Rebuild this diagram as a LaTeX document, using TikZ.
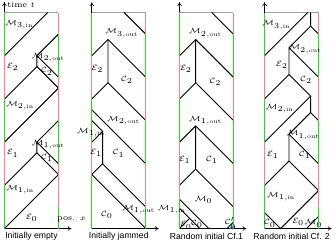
\documentclass[tikz,border=0pt]{standalone}
\usepackage{fontspec}
\setsansfont{Liberation Sans}
\usetikzlibrary{arrows.meta}

\begin{document}
\begin{tikzpicture}[
  font=\fontsize{5.5}{6}\selectfont,
  wave/.style={line width=0.6pt},
  axis/.style={line width=0.4pt, -{To[length=2.5pt,width=3pt]}},
  region/.style={inner sep=0pt},
  caption/.style={font=\sffamily\fontsize{5.7}{6}\selectfont, inner sep=0pt},
  phase/.style={line width=0.9pt}
]

% Define Light Colors
\definecolor{GoColor}{HTML}{22DD22}
\definecolor{StopColor}{HTML}{FF8080}
\definecolor{TopColor}{HTML}{A0A0A0}
\definecolor{FanColor}{HTML}{4080FF}

\useasboundingbox (-0.104,-0.336) rectangle (7.65,5.29);

% Panel 1: Initially empty
\begin{scope}[xshift=0cm]
  \draw[axis] (0,0) -- (1.55,0);
  \draw[axis] (0,0) -- (0,5.24);
  \draw[TopColor, wave] (0,5) -- (1.25,5);
  \draw[wave] (0,0) -- (1.25,1.25);
  \draw[wave] (0,1) -- (0.75,1.75) -- (0.75,2) -- (1.25,2.5);
  \draw[wave] (0.75,1.75) -- (1.25,1.25);
  \draw[wave] (0.75,2) -- (1.25,1.5);
  \draw[wave] (0,2) -- (1.25,3.25);
  \draw[wave] (0,3) -- (0.75,3.75) -- (0.75,4) -- (1.25,4.5);
  \draw[wave] (0.75,3.75) -- (1.25,3.25);
  \draw[wave] (0.75,4) -- (1.25,3.5);
  \draw[wave] (0,4) -- (1,5);
  \foreach \a/\b/\col in {0/1/GoColor, 1/2/StopColor, 2/3/GoColor, 3/4/StopColor, 4/5/GoColor}
    \draw[phase, \col] (0,\a) -- (0,\b);
  \foreach \a/\b/\col in {0/0.5/GoColor, 0.5/1.5/StopColor, 1.5/2.5/GoColor, 2.5/3.5/StopColor, 3.5/4.5/GoColor, 4.5/5/StopColor}
    \draw[phase, \col] (1.25,\a) -- (1.25,\b);
  \node[region] (E0a) at (0.63,0.24) {$\mathcal{E}_0$};
  \node[region] (M1ina) at (0.36,0.9) {$\mathcal{M}_{1,\mathrm{in}}$};
  \node[region] (E1a) at (0.19,1.74) {$\mathcal{E}_1$};
  \node[region] (C1a) at (0.98,1.64) {$\mathcal{C}_1$};
  \node[region] (M1outa) at (1.01,1.95) {$\mathcal{M}_{1,\mathrm{out}}$};
  \node[region] (M2ina) at (0.36,2.85) {$\mathcal{M}_{2,\mathrm{in}}$};
  \node[region] (E2a) at (0.19,3.74) {$\mathcal{E}_2$};
  \node[region] (C2a) at (0.98,3.64) {$\mathcal{C}_2$};
  \node[region] (M2outa) at (1.01,3.95) {$\mathcal{M}_{2,\mathrm{out}}$};
  \node[region] (M3ina) at (0.34,4.72) {$\mathcal{M}_{3,\mathrm{in}}$};
  \node[region, anchor=west] (timet) at (0.06,5.17) {time $t$};
  \node[region] (posx) at (1.55,0.2) {pos. $x$};
  \node[caption] (capa) at (0.625,-0.18) {Initially empty};
\end{scope}

% Panel 2: Initially jammed
\begin{scope}[xshift=2.02cm]
  \draw[axis] (0,0) -- (1.55,0);
  \draw[axis] (0,0) -- (0,5.24);
  \draw[TopColor, wave] (0,5) -- (1.25,5);
  \draw[wave] (1.25,0) -- (0,1.25);
  \draw[wave] (1.25,0.5) -- (0.25,1.5);
  \draw[wave] (0,1.25) -- (0.25,1.5) -- (0.25,2.25);
  \draw[wave] (0,2) -- (0.25,2.25) -- (0,2.5);
  \draw[wave] (1.25,1.5) -- (0,2.75);
  \draw[wave] (1.25,2.5) -- (0.375,3.375);
  \draw[wave] (0,3) -- (0.375,3.375) -- (0.375,4.375);
  \draw[wave] (0,4) -- (0.375,4.375) -- (1.25,3.5);
  \draw[wave] (1.25,4.5) -- (0.75,5);
  \foreach \a/\b/\col in {0/1.25/GoColor, 1.25/2/StopColor, 2/3/GoColor, 3/4/StopColor, 4/5/GoColor}
    \draw[phase, \col] (0,\a) -- (0,\b);
  \foreach \a/\b/\col in {0/0.5/GoColor, 0.5/1.5/StopColor, 1.5/2.5/GoColor, 2.5/3.5/StopColor, 3.5/4.5/GoColor, 4.5/5/StopColor}
    \draw[phase, \col] (1.25,\a) -- (1.25,\b);
  \node[region] (C0b) at (0.35,0.31) {$\mathcal{C}_0$};
  \node[region] (M1outb) at (1.08,0.43) {$\mathcal{M}_{1,\mathrm{out}}$};
  \node[region] (E1b) at (0.1,1.75) {$\mathcal{E}_1$};
  \node[region] (C1b) at (0.62,1.74) {$\mathcal{C}_1$};
  \node[region] (M1inb) at (-0.02,2.22) {$\mathcal{M}_{1,\mathrm{in}}$};
  \node[region] (M2outb) at (0.73,2.5) {$\mathcal{M}_{2,\mathrm{out}}$};
  \node[region] (E2b) at (0.13,3.69) {$\mathcal{E}_2$};
  \node[region] (C2b) at (0.81,3.44) {$\mathcal{C}_2$};
  \node[region] (M3outb) at (0.69,4.52) {$\mathcal{M}_{3,\mathrm{out}}$};
  \node[caption] (capb) at (0.625,-0.18) {Initially jammed};
\end{scope}

% Panel 3: Random initial Cf.1
\begin{scope}[xshift=4.05cm]
  \draw[axis] (0,0) -- (1.55,0);
  \draw[axis] (0,0) -- (0,5.24);
  \draw[TopColor, wave] (0,5) -- (1.25,5);
  \draw[wave] (0,0) -- (0.24,0.24);
  \draw[wave] (0.47,0) -- (0,0.47);
  \draw[wave] (0.68,0) -- (0,0.68);
  \fill[FanColor] (1.16,0) -- (1.25,0.09) -- (1.25,0) -- cycle;
  \draw[wave] (1.1,0) -- (1.25,0.15);
  \draw[wave] (1.25,0.5) -- (0.375,1.375);
  \draw[wave] (0,1) -- (0.375,1.375) -- (0.375,2.375);
  \draw[wave] (0,2) -- (0.375,2.375) -- (1.25,1.5);
  \draw[wave] (1.25,2.5) -- (0.375,3.375);
  \draw[wave] (0,3) -- (0.375,3.375) -- (0.375,4.375);
  \draw[wave] (0,4) -- (0.375,4.375) -- (1.25,3.5);
  \draw[wave] (1.25,4.5) -- (0.75,5);
  \foreach \a/\b/\col in {0/0.68/GoColor, 0.68/2/StopColor, 2/3/GoColor, 3/4/StopColor, 4/5/GoColor}
    \draw[phase, \col] (0,\a) -- (0,\b);
  \foreach \a/\b/\col in {0/0.5/GoColor, 0.5/1.5/StopColor, 1.5/2.5/GoColor, 2.5/3.5/StopColor, 3.5/4.5/GoColor, 4.5/5/StopColor}
    \draw[phase, \col] (1.25,\a) -- (1.25,\b);
  \node[region] (M1inc) at (-0.18,0.44) {$\mathcal{M}_{1,\mathrm{in}}$};
  \node[region] (E0c) at (0.15,0.07) {$\mathcal{E}_0$};
  \node[region] (C0c) at (0.40,0.1) {$\mathcal{C}_0$};
  \node[region] (C0pc) at (1.18,0.12) {$\mathcal{C}_0'$};
  \node[region] (M0c) at (0.56,0.66) {$\mathcal{M}_0$};
  \node[region] (E1c) at (0.12,1.59) {$\mathcal{E}_1$};
  \node[region] (C1c) at (0.75,1.59) {$\mathcal{C}_1$};
  \node[region] (M1outc) at (0.6,2.5) {$\mathcal{M}_{1,\mathrm{out}}$};
  \node[region] (E2c) at (0.15,3.69) {$\mathcal{E}_2$};
  \node[region] (C2c) at (0.83,3.40) {$\mathcal{C}_2$};
  \node[region] (M2outc) at (0.6,4.52) {$\mathcal{M}_{2,\mathrm{out}}$};
  \node[caption] (capc) at (0.625,-0.18) {Random initial Cf.1};
\end{scope}

% Panel 4: Random initial Cf. 2
\begin{scope}[xshift=6.02cm]
  \draw[axis] (0,0) -- (1.55,0);
  \draw[axis] (0,0) -- (0,5.24);
  \draw[TopColor, wave] (0,5) -- (1.25,5);
  \draw[wave] (0,0.37) -- (0.37,0) -- (1.25,0.88);
  \draw[wave] (0.97,0) -- (1.25,0.28);
  \draw[wave] (1.25,0.88) -- (0.565,1.565);
  \draw[wave] (0,1) -- (0.565,1.565) -- (0.565,2.185) -- (1.065,2.685) -- (1.065,3.065);
  \draw[wave] (0.565,2.185) -- (1.25,1.5);
  \draw[wave] (1.25,2.5) -- (1.065,2.685);
  \draw[wave] (0,2) -- (1.065,3.065) -- (0.565,3.565);
  \draw[wave] (0,3) -- (0.565,3.565) -- (0.565,4.185) -- (1.065,4.685) -- (1.065,5);
  \draw[wave] (0.565,4.185) -- (1.25,3.5);
  \draw[wave] (1.25,4.5) -- (1.065,4.685);
  \draw[wave] (0,4) -- (1,5);
  \foreach \a/\b/\col in {0/1/GoColor, 1/2/StopColor, 2/3/GoColor, 3/4/StopColor, 4/5/GoColor}
    \draw[phase, \col] (0,\a) -- (0,\b);
  \foreach \a/\b/\col in {0/0.5/GoColor, 0.5/1.5/StopColor, 1.5/2.5/GoColor, 2.5/3.5/StopColor, 3.5/4.5/GoColor, 4.5/5/StopColor}
    \draw[phase, \col] (1.25,\a) -- (1.25,\b);
  \node[region] (C0d) at (0.12,0.12) {$\mathcal{C}_0$};
  \node[region] (E0d) at (0.78,0.16) {$\mathcal{E}_0$};
  \node[region] (M0d) at (1.13,0.12) {$\mathcal{M}_0$};
  \node[region] (M1ind) at (0.38,0.74) {$\mathcal{M}_{1,\mathrm{in}}$};
  \node[region] (E1d) at (0.19,1.7) {$\mathcal{E}_1$};
  \node[region] (C1d) at (0.93,1.7) {$\mathcal{C}_1$};
  \node[region] (M1outd) at (0.89,2.16) {$\mathcal{M}_{1,\mathrm{out}}$};
  \node[region] (M2ind) at (0.35,2.78) {$\mathcal{M}_{2,\mathrm{in}}$};
  \node[region] (E2d) at (0.4,3.79) {$\mathcal{E}_2$};
  \node[region] (C2d) at (0.96,3.44) {$\mathcal{C}_2$};
  \node[region] (M2outd) at (0.93,4.15) {$\mathcal{M}_{2,\mathrm{out}}$};
  \node[region] (M3ind) at (0.27,4.71) {$\mathcal{M}_{3,\mathrm{in}}$};
  \node[caption] (capd) at (0.625,-0.18) {Random initial Cf. 2};
\end{scope}

\end{tikzpicture}
\end{document}
